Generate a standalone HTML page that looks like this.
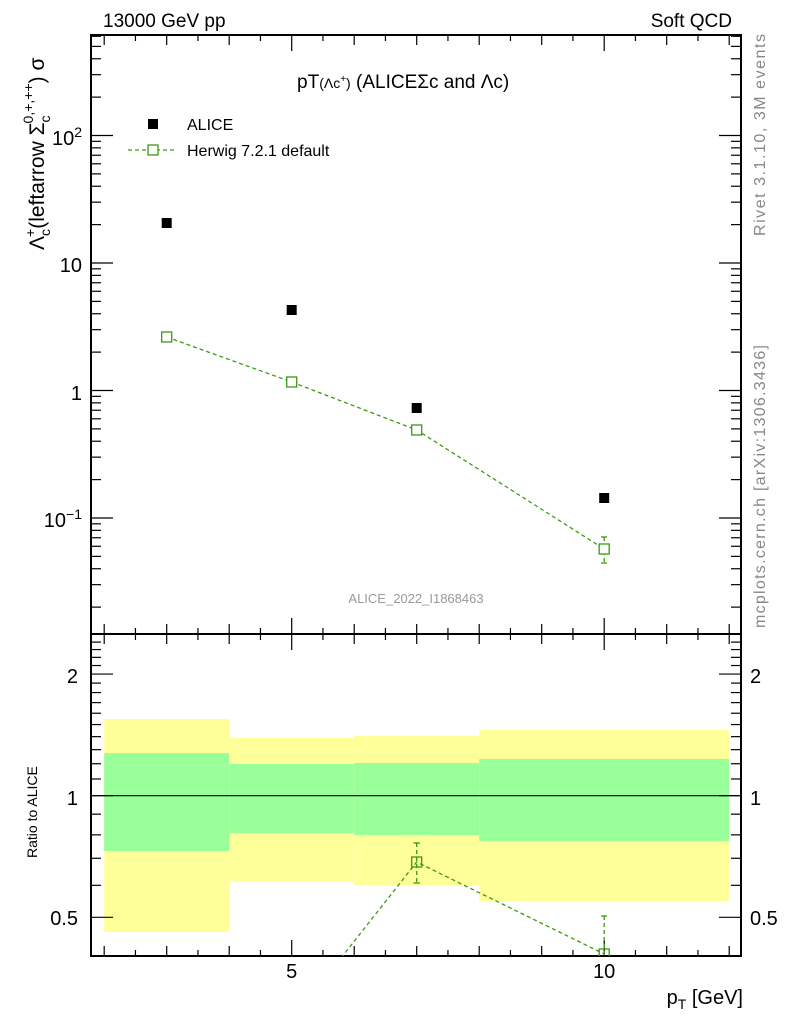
<!DOCTYPE html>
<html><head><meta charset="utf-8"><style>
html,body{margin:0;padding:0;background:#fff}
svg{display:block;font-family:"Liberation Sans",Arial,sans-serif}
</style></head><body>
<svg id="s" width="786" height="1024" viewBox="0 0 786 1024" xmlns="http://www.w3.org/2000/svg">
<rect width="786" height="1024" fill="#fff"/>
<g id="bands"></g>
<line x1="91" y1="795.7" x2="741" y2="795.7" stroke="#000" stroke-width="1.2"/>
<g id="ticks" stroke="#000" stroke-width="1.2" fill="none"></g>
<rect x="91" y="35" width="650" height="599" fill="none" stroke="#000" stroke-width="2"/>
<rect x="91" y="634" width="650" height="322" fill="none" stroke="#000" stroke-width="2"/>
<g fill="#000">
<rect x="161.7" y="218" width="10" height="10"/>
<rect x="286.7" y="305" width="10" height="10"/>
<rect x="411.7" y="403" width="10" height="10"/>
<rect x="599.2" y="493" width="10" height="10"/>
</g>
<g stroke="#3a9a10" stroke-width="1.3" fill="none">
<polyline points="166.7,337 291.7,382 416.7,430 604.2,549" stroke-dasharray="4,3"/>
<line x1="604.2" y1="537" x2="604.2" y2="563" stroke-dasharray="4,3"/>
<line x1="601" y1="537" x2="607" y2="537"/><line x1="601" y1="563" x2="607" y2="563"/>
<rect x="161.7" y="332" width="10" height="10" fill="#fff"/>
<rect x="286.7" y="377" width="10" height="10" fill="#fff"/>
<rect x="411.7" y="425" width="10" height="10" fill="#fff"/>
<rect x="599.2" y="544" width="10" height="10" fill="#fff"/>
</g>
<svg x="91" y="634" width="650" height="322" overflow="hidden">
<g stroke="#3a9a10" stroke-width="1.3" fill="none" transform="translate(-91,-634)">
<polyline points="341,958 416.7,862 604.2,954" stroke-dasharray="4,3"/>
<line x1="416.7" y1="843" x2="416.7" y2="883" stroke-dasharray="4,3"/>
<line x1="413.5" y1="843" x2="420" y2="843"/><line x1="413.5" y1="883" x2="420" y2="883"/>
<line x1="604.2" y1="916" x2="604.2" y2="956" stroke-dasharray="4,3"/>
<line x1="601" y1="916" x2="607" y2="916"/>
<rect x="411.7" y="857" width="10" height="10"/>
<rect x="599.2" y="949" width="10" height="10"/>
</g></svg>
<rect x="148" y="119" width="10" height="10" fill="#000"/>
<text x="187" y="130" font-size="16">ALICE</text>
<line x1="128" y1="150" x2="174" y2="150" stroke="#3a9a10" stroke-width="1.3" stroke-dasharray="4,3"/>
<rect x="148" y="145" width="10" height="10" fill="#fff" stroke="#3a9a10" stroke-width="1.3"/>
<text x="187" y="156" font-size="16">Herwig 7.2.1 default</text>
<text x="103" y="27" font-size="19">13000 GeV pp</text>
<text x="732" y="27" font-size="19" text-anchor="end">Soft QCD</text>
<text x="297" y="88" font-size="19">pT<tspan font-size="14">(Λc<tspan dy="-6" font-size="10">+</tspan><tspan dy="6">)</tspan></tspan> (ALICEΣc and Λc)</text>
<text x="416" y="603" font-size="13" fill="#999" text-anchor="middle">ALICE_2022_I1868463</text>
<text transform="translate(765,236) rotate(-90)" font-size="16" fill="#888" textLength="202">Rivet 3.1.10,  3M events</text>
<text transform="translate(765,628) rotate(-90)" font-size="16" fill="#888" textLength="283">mcplots.cern.ch [arXiv:1306.3436]</text>
<text transform="translate(44,250) rotate(-90)" font-size="21">Λ<tspan font-size="14" dy="6">c</tspan><tspan font-size="14" dy="-15" dx="-8">+</tspan><tspan dy="9">(leftarrow Σ</tspan><tspan font-size="14" dy="6">c</tspan><tspan font-size="14" dy="-17" dx="-8">0,+,++</tspan><tspan dy="11">) σ</tspan></text>
<text transform="translate(37,858) rotate(-90)" font-size="14">Ratio to ALICE</text>
<text x="743" y="1004" font-size="20" text-anchor="end">p<tspan font-size="14" dy="5">T</tspan><tspan dy="-5"> [GeV]</tspan></text>
</svg>
<script>
(function(){
var NS="http://www.w3.org/2000/svg";
function el(p,n,a){var e=document.createElementNS(NS,n);for(var k in a)e.setAttribute(k,a[k]);p.appendChild(e);return e;}
var s=document.getElementById('s'),t=document.getElementById('ticks'),b=document.getElementById('bands');
var X=function(v){return 291.7+(v-5)*62.5};
var Y=function(v){return 390.5-127.5*Math.log10(v)};
var R=function(v){return 795.7-404*Math.log10(v)};
var bins=[[2,4,719,932,753,851],[4,6,738,882,764,833],[6,8,736,885,763,835],[8,12,730,901,759,841]];
bins.forEach(function(q){var x1=X(q[0]),x2=X(q[1]);
el(b,'rect',{x:x1,y:q[2],width:x2-x1,height:q[3]-q[2],fill:'#ffff99'});
el(b,'rect',{x:x1,y:q[4],width:x2-x1,height:q[5]-q[4],fill:'#99ff99'});});
function L(x1,y1,x2,y2){el(t,'line',{x1:x1,y1:y1,x2:x2,y2:y2});}
for(var v=2;v<=12.01;v+=0.5){var x=X(v);var len=(v%5==0)?16:(v%1==0?10:6);
L(x,634,x,634-len);L(x,35,x,35+len);L(x,634,x,634+len);L(x,956,x,956-len);}
for(var d=-2;d<=2;d++){for(var m=1;m<=9;m++){var v=m*Math.pow(10,d);var y=Y(v);if(y<36||y>633)continue;
var len=m==1?22:10;L(91,y,91+len,y);L(741,y,741-len,y);}}
for(var v=0.4;v<=2.5;v+=0.1){var vv=Math.round(v*10)/10;var y=R(vv);if(y<636||y>954)continue;
var len=(vv==0.5||vv==1||vv==2)?22:10;L(91,y,91+len,y);L(741,y,741-len,y);}
function T(x,y,str,anc,fs){var e=el(s,'text',{x:x,y:y,'font-size':fs||20,'text-anchor':anc||'end'});e.textContent=str;return e;}
var e=T(82,145,'10');var sp=document.createElementNS(NS,'tspan');sp.setAttribute('dy','-8');sp.setAttribute('font-size','14');sp.textContent='2';e.appendChild(sp);
T(82,272,'10');T(82,400,'1');
e=T(82,527,'10');sp=document.createElementNS(NS,'tspan');sp.setAttribute('dy','-8');sp.setAttribute('font-size','14');sp.textContent='−1';e.appendChild(sp);
T(78,683,'2');T(78,805,'1');T(78,925,'0.5');
T(750,683,'2','start');T(750,805,'1','start');T(750,925,'0.5','start');
T(291.7,978,'5','middle');T(604.2,978,'10','middle');
})();
</script>
</body></html>
